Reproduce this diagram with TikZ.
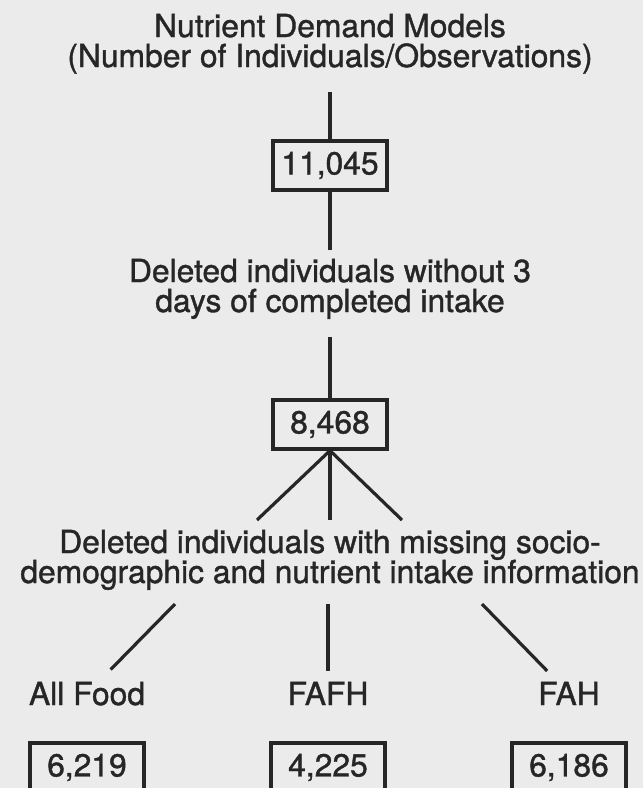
\documentclass[tikz,border=0pt]{standalone}
\usepackage{fontspec}
\setmainfont[FakeBold=1.2]{TeX Gyre Heros}
\usepackage{tikz}

\definecolor{ink}{gray}{0.15}
\definecolor{paper}{gray}{0.92}
\setlength{\lineskiplimit}{-30pt}

\begin{document}
\begin{tikzpicture}[x=1pt,y=-1pt,color=ink,line width=3.2pt,
		every node/.style={font=\fontsize{31.8}{30}\selectfont},
		txt/.style={anchor=base,align=center,inner sep=0pt},
		cnt/.style={draw,minimum width=114pt,minimum height=49pt,inner sep=0pt}]
	\useasboundingbox (0,0) rectangle (643,788);
	\clip (0,0) rectangle (643,788);
	\fill[paper] (0,0) rectangle (643,788);
	
	% heading and the two deletion steps (base = last line)
	\node[txt] (title) at (330,67) {Nutrient Demand Models\\(Number of Individuals/Observations)};
	\node[cnt] (n0) at (330,165.5) {11,045};
	\node[txt] (del1) at (330,312) {Deleted individuals without 3\\days of completed intake};
	\node[cnt] (n1) at (330,424.5) {8,468};
	\node[txt] (del2) at (330,583) {Deleted individuals with missing socio-\\demographic and nutrient intake information};
	
	% the three samples
	\foreach \x/\y/\z/\w in
	{all/87/{All Food}/{6,219}, fafh/328/FAFH/{4,225}, fah/569/FAH/{6,186}}{
		\node[txt] (\x) at (\y,705) {\z};
		\node[cnt] (n\x) at (\y,767.5) {\w};
	}
	
	% free ends of the branches
	\foreach \x/\y/\z in
	{u1/257/520, u2/330/520, u3/402/520, v1/175/604, v2/328/604, v3/482/604}{
		\coordinate (\x) at (\y,\z);
	}
	
	\draw[shorten <=17pt] (title) -- (n0);
	\draw[shorten >=7pt] (n0) -- (del1);
	\draw[shorten <=16pt] (del1) -- (n1);
	\foreach \x in {u1,u2,u3}{
		\draw (n1.south) -- (\x);
	}
	\draw[shorten >=15pt] (v1) -- (all);
	\draw[shorten >=9pt] (v2) -- (fafh);
	\draw[shorten >=13pt] (v3) -- (fah);
\end{tikzpicture}
\end{document}
